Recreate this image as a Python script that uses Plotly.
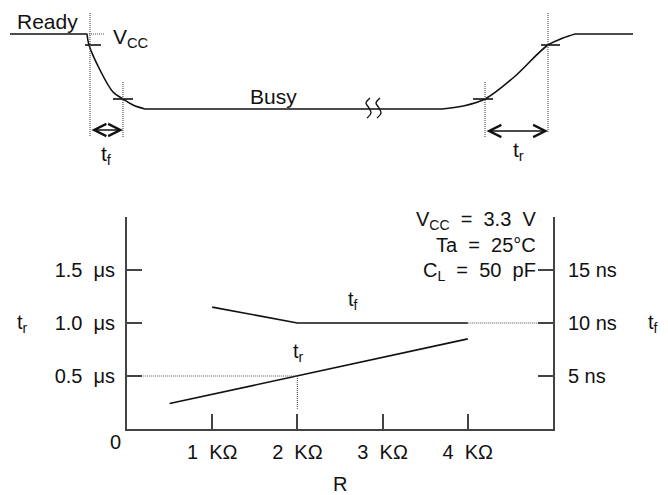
import plotly.graph_objects as go

W, H = 668, 495
PAD = 8  # page body margin around the plot div
FW, FH = W - PAD, H - PAD

# ---- bottom chart data (R in KOhm) ----
tf_r = [1, 2, 4]
tf_ns = [11.5, 10, 10]
tf_ext_r = [4, 5]
tf_ext_ns = [10, 10]

tr_r = [0.5, 2, 4]
tr_us = [0.24, 0.5, 0.85]

x_ticks = [1, 2, 3, 4]
x_labels = ["1  KΩ", "2  KΩ", "3  KΩ", "4  KΩ"]
y_ticks = [0.5, 1.0, 1.5]
y_labels = ["0.5  μs", "1.0  μs", "1.5  μs"]
y2_ticks = [5, 10, 15]
y2_labels = ["5 ns", "10 ns", "15 ns"]

# ---- timing waveform (drawn in pixel units of the page) ----
ready_x = [10, 87]
ready_y = [34, 34]
fall_x = [87, 89, 100, 113, 123, 133, 145]
fall_y = [34, 45, 70, 92, 99, 105, 109]
busy_x = [145, 442]
busy_y = [109, 109]
rise_x = [442, 463, 485, 513, 548, 563, 575]
rise_y = [109, 106, 99, 78, 45, 38, 34]
high_x = [575, 633]
high_y = [34, 34]

marks = [((85, 101), 45), ((113, 133), 99), ((473, 493), 99), ((541, 560), 45)]
guides = [(90, 13, 137), (123, 82, 137), (485, 82, 137), (548, 13, 133)]

FONT = "Arial, Liberation Sans, sans-serif"
INK = "#111111"
AXIS = "#444444"

fig = go.Figure()

solid = dict(color=INK, width=1.6)
dots = dict(color="#555555", width=1.2, dash="1px,1px")

# waveform
for xs, ys, shape in [(ready_x, ready_y, "linear"), (fall_x, fall_y, "spline"),
                      (busy_x, busy_y, "linear"), (rise_x, rise_y, "spline"),
                      (high_x, high_y, "linear")]:
    fig.add_trace(go.Scatter(x=xs, y=ys, mode="lines", line=dict(shape=shape, **solid),
                             xaxis="x2", yaxis="y2", hoverinfo="skip"))

for (x0, x1), y in marks:
    fig.add_trace(go.Scatter(x=[x0, x1], y=[y, y], mode="lines", line=solid,
                             xaxis="x2", yaxis="y2", hoverinfo="skip"))
for x, y0, y1 in guides:
    fig.add_trace(go.Scatter(x=[x, x], y=[y0, y1], mode="lines", line=dots,
                             xaxis="x2", yaxis="y2", hoverinfo="skip"))
fig.add_trace(go.Scatter(x=[87, 105], y=[34, 34], mode="lines", line=dots,
                         xaxis="x2", yaxis="y2", hoverinfo="skip"))

# break squiggles
for bx in [368, 378]:
    fig.add_trace(go.Scatter(x=[bx + 2, bx - 2, bx + 1, bx + 3, bx - 1],
                             y=[98, 103, 108, 113, 118], mode="lines",
                             line=dict(shape="spline", color=INK, width=1.4),
                             xaxis="x2", yaxis="y2", hoverinfo="skip"))

# bottom chart lines
fig.add_trace(go.Scatter(x=tf_r, y=tf_ns, mode="lines", line=solid, yaxis="y3", hoverinfo="skip"))
fig.add_trace(go.Scatter(x=tf_ext_r, y=tf_ext_ns, mode="lines", line=dots, yaxis="y3", hoverinfo="skip"))
fig.add_trace(go.Scatter(x=tr_r, y=tr_us, mode="lines", line=solid, hoverinfo="skip"))
fig.add_trace(go.Scatter(x=[0.19, 2], y=[0.5, 0.5], mode="lines", line=dots, hoverinfo="skip"))
fig.add_trace(go.Scatter(x=[2, 2], y=[0.5, 0.19], mode="lines", line=dots, hoverinfo="skip"))


def ann(x, y, text, size=20, xanchor="center"):
    return dict(x=x, y=y, text=text, showarrow=False, xanchor=xanchor, yanchor="middle",
                xref="x2", yref="y2", font=dict(family=FONT, size=size, color=INK))


annotations = [
    ann(47, 21, "Ready", 21),
    ann(111, 38, "V<sub>CC</sub>", 21, "left"),
    ann(273, 96, "Busy", 21),
    ann(106, 155, "t<sub>f</sub>", 21),
    ann(518, 151, "t<sub>r</sub>", 21),
    ann(538, 220, "V<sub>CC</sub>  =  3.3  V", 20, "right"),
    ann(538, 245, "Ta  =  25°C", 20, "right"),
    ann(538, 271, "C<sub>L</sub>  =  50  pF", 20, "right"),
    ann(353, 300, "t<sub>f</sub>", 20),
    ann(298, 352, "t<sub>r</sub>", 20),
    ann(22, 323, "t<sub>r</sub>", 20),
    ann(653, 323, "t<sub>f</sub>", 20),
    ann(115, 442, "0", 20),
    ann(340, 484, "R", 20),
]

for xa, xb, y in [(90, 123, 130), (485, 548, 131)]:
    annotations.append(dict(x=xb, y=y, ax=xa, ay=y, xref="x2", yref="y2", axref="x2", ayref="y2",
                            text="", showarrow=True, arrowhead=5, arrowside="end+start",
                            arrowsize=1.6, arrowwidth=1.5, arrowcolor=INK, standoff=0, startstandoff=0))

axis_common = dict(showgrid=False, zeroline=False, showline=True, linecolor=AXIS, linewidth=1.8,
                   ticks="inside", ticklen=15, tickwidth=1.5, tickcolor=AXIS,
                   tickfont=dict(family=FONT, size=20, color=INK), fixedrange=True)


def px_x(p):
    return (p - PAD) / FW


def px_y(p):
    return 1 - (p - PAD) / FH


fig.update_layout(
    width=FW, height=FH,
    margin=dict(l=0, r=0, t=0, b=0),
    paper_bgcolor="white", plot_bgcolor="rgba(0,0,0,0)",
    showlegend=False,
    xaxis=dict(domain=[px_x(127), px_x(553)], range=[0, 5], tickvals=x_ticks, ticktext=x_labels,
               anchor="y", ticklabelstandoff=4, **axis_common),
    yaxis=dict(domain=[px_y(429), px_y(217)], range=[0, 2], tickvals=y_ticks, ticktext=y_labels,
               anchor="x", ticklabelstandoff=6, **axis_common),
    yaxis3=dict(overlaying="y", side="right", range=[0, 20], tickvals=y2_ticks, ticktext=y2_labels,
                anchor="x", ticklabelstandoff=9, **axis_common),
    xaxis2=dict(domain=[0, 1], range=[PAD, W], visible=False, anchor="y2", fixedrange=True),
    yaxis2=dict(domain=[0, 1], range=[H, PAD], visible=False, anchor="x2", fixedrange=True),
    annotations=annotations,
)

fig.write_html("out.html")
